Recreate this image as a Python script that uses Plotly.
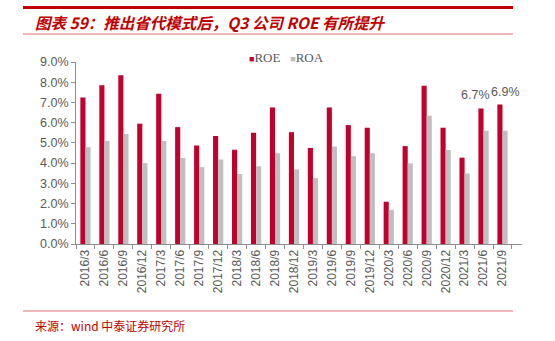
import plotly.graph_objects as go

categories = ["2016/3", "2016/6", "2016/9", "2016/12",
              "2017/3", "2017/6", "2017/9", "2017/12",
              "2018/3", "2018/6", "2018/9", "2018/12",
              "2019/3", "2019/6", "2019/9", "2019/12",
              "2020/3", "2020/6", "2020/9", "2020/12",
              "2021/3", "2021/6", "2021/9"]
roe = [7.25, 7.85, 8.35, 5.95, 7.43, 5.78, 4.87, 5.34, 4.66, 5.5, 6.75, 5.53,
       4.75, 6.75, 5.88, 5.75, 2.09, 4.84, 7.82, 5.75, 4.27, 6.7, 6.9]
roa = [4.79, 5.1, 5.44, 4.0, 5.1, 4.26, 3.8, 4.18, 3.46, 3.84, 4.49, 3.69,
       3.26, 4.82, 4.34, 4.49, 1.69, 3.99, 6.34, 4.65, 3.49, 5.6, 5.6]
labelled = ["2021/6", "2021/9"]
label_text = ["6.7%", "6.9%"]
y_ticks = [0, 1, 2, 3, 4, 5, 6, 7, 8, 9]
y_tick_text = ["0.0%", "1.0%", "2.0%", "3.0%", "4.0%", "5.0%", "6.0%", "7.0%", "8.0%", "9.0%"]

W, H = 555, 341
L, R, T, B = 76, 33, 62, 97
PW, PH = W - L - R, H - T - B


def px(x):
    return (x - L) / PW


def py(y):
    return (H - B - y) / PH


RED = "#C0002D"
GRAY = "#BFBFBF"
TXT = "#595959"
AX = "#8C8C8C"

fig = go.Figure()
fig.add_trace(go.Bar(x=categories, y=roe, name="ROE", marker_color=RED, marker_line_width=0))
fig.add_trace(go.Bar(x=categories, y=roa, name="ROA", marker_color=GRAY, marker_line_width=0))

annotations = []
label_offsets = [(-8, 5), (3, 3)]
for cat, txt, (dx, dy) in zip(labelled, label_text, label_offsets):
    v = roe[categories.index(cat)]
    annotations.append(dict(x=cat, y=v, xref="x", yref="y", text=txt, showarrow=False,
                            yanchor="bottom", xshift=dx, yshift=dy,
                            font=dict(family="Liberation Sans, Arial", size=12.5, color=TXT)))

# title
annotations.append(dict(x=px(33), y=py(22), xref="paper", yref="paper", xanchor="left", yanchor="middle",
                        text="<b><i>图表 59：推出省代模式后，Q3 公司 ROE 有所提升</i></b>", showarrow=False,
                        font=dict(family="Noto Sans CJK SC", size=15.5, color="#C00000")))
# legend
annotations.append(dict(x=px(286), y=py(57), xref="paper", yref="paper", xanchor="center", yanchor="middle",
                        text=("<span style='color:%s;font-size:9px'>■</span>ROE   "
                              "<span style='color:%s;font-size:9px'>■</span>ROA") % (RED, GRAY),
                        showarrow=False,
                        font=dict(family="Liberation Serif, Times New Roman", size=13, color=TXT)))
# source
annotations.append(dict(x=px(33), y=py(325), xref="paper", yref="paper", xanchor="left", yanchor="middle",
                        text="来源：wind 中泰证券研究所", showarrow=False,
                        font=dict(family="Noto Sans CJK SC", size=12, color="#C00000")))

shapes = [
    dict(type="line", xref="paper", yref="paper", x0=px(23), x1=px(513), y0=py(7.5), y1=py(7.5),
         line=dict(color="#C00000", width=3)),
    dict(type="line", xref="paper", yref="paper", x0=px(23), x1=px(513), y0=py(34), y1=py(34),
         line=dict(color="#E07070", width=1)),
    dict(type="line", xref="paper", yref="paper", x0=px(23), x1=px(513), y0=py(311), y1=py(311),
         line=dict(color="#E07070", width=1)),
]

fig.update_layout(
    width=W, height=H,
    margin=dict(l=L, r=R, t=T, b=B, pad=0),
    paper_bgcolor="white", plot_bgcolor="white",
    barmode="group", bargap=0.46, bargroupgap=0,
    showlegend=False,
    annotations=annotations, shapes=shapes,
    font=dict(family="Liberation Sans, Arial", color=TXT),
)
fig.update_xaxes(type="category", categoryorder="array", categoryarray=categories,
                 tickangle=-90, tickfont=dict(size=12, color=TXT),
                 showline=True, linecolor=AX, linewidth=1,
                 ticks="outside", tickson="boundaries", ticklen=4, tickcolor=AX,
                 showgrid=False, zeroline=False)
fig.update_yaxes(range=[0, 9], tickmode="array", tickvals=y_ticks, ticktext=y_tick_text,
                 tickfont=dict(size=12.5, color=TXT),
                 showline=True, linecolor=AX, linewidth=1,
                 ticks="outside", ticklen=4, tickcolor=AX,
                 showgrid=False, zeroline=False)

fig.write_html("out.html")
